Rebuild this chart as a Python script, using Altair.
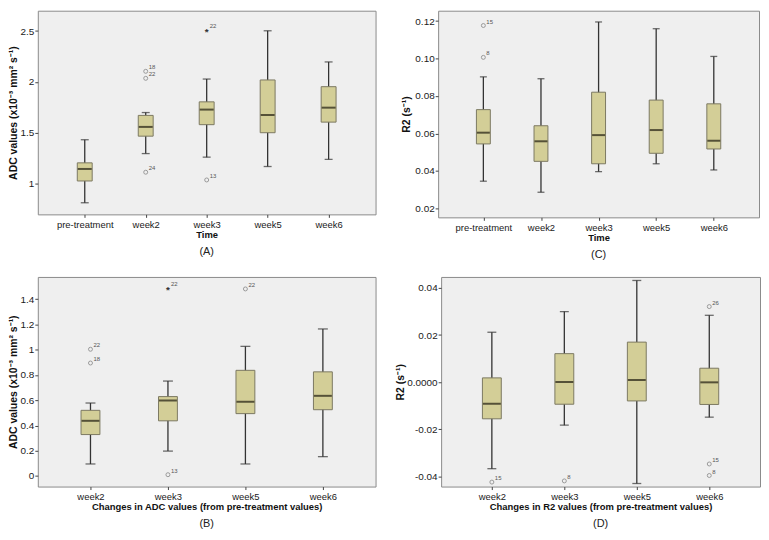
import altair as alt
import pandas as pd

FONT = "Liberation Sans"

# ---------------- Panel A: ADC values by time ----------------
a_cats = ["pre-treatment", "week2", "week3", "week5", "week6"]
a_low = [0.814, 1.297, 1.262, 1.170, 1.240]
a_q1 = [1.028, 1.468, 1.581, 1.502, 1.606]
a_med = [1.146, 1.559, 1.729, 1.676, 1.748]
a_q3 = [1.206, 1.672, 1.805, 2.020, 1.954]
a_high = [1.433, 1.700, 2.029, 2.503, 2.197]
a_out_cat = ["week2", "week2", "week2", "week3", "week3"]
a_out_val = [2.105, 2.036, 1.114, 2.515, 1.038]
a_out_lab = ["18", "22", "24", "22", "13"]
a_out_kind = ["circle", "circle", "circle", "star", "circle"]
a_ticks = [1.0, 1.5, 2.0, 2.5]

# ---------------- Panel C: R2 by time ----------------
c_cats = ["pre-treatment", "week2", "week3", "week5", "week6"]
c_low = [0.0345, 0.0286, 0.0396, 0.0438, 0.0405]
c_q1 = [0.0544, 0.0451, 0.0438, 0.0494, 0.0517]
c_med = [0.0604, 0.0558, 0.0591, 0.0618, 0.0561]
c_q3 = [0.0727, 0.0641, 0.0820, 0.0778, 0.0758]
c_high = [0.0902, 0.0892, 0.1195, 0.1159, 0.1011]
c_out_cat = ["pre-treatment", "pre-treatment"]
c_out_val = [0.1176, 0.1006]
c_out_lab = ["15", "8"]
c_out_kind = ["circle", "circle"]
c_ticks = [0.02, 0.04, 0.06, 0.08, 0.10, 0.12]

# ---------------- Panel B: changes in ADC ----------------
b_cats = ["week2", "week3", "week5", "week6"]
b_low = [0.095, 0.197, 0.095, 0.153]
b_q1 = [0.328, 0.437, 0.494, 0.525]
b_med = [0.437, 0.598, 0.588, 0.635]
b_q3 = [0.520, 0.629, 0.837, 0.825]
b_high = [0.578, 0.752, 1.027, 1.165]
b_out_cat = ["week2", "week2", "week3", "week3", "week5"]
b_out_val = [1.004, 0.895, 1.488, 0.010, 1.482]
b_out_lab = ["22", "18", "22", "13", "22"]
b_out_kind = ["circle", "circle", "star", "circle", "circle"]
b_ticks = [0.0, 0.2, 0.4, 0.6, 0.8, 1.0, 1.2, 1.4]

# ---------------- Panel D: changes in R2 ----------------
d_cats = ["week2", "week3", "week5", "week6"]
d_low = [-0.0368, -0.0183, -0.0431, -0.0149]
d_q1 = [-0.0156, -0.0094, -0.0080, -0.0095]
d_med = [-0.0092, 0.0000, 0.0009, -0.0001]
d_q3 = [0.0018, 0.0121, 0.0170, 0.0059]
d_high = [0.0212, 0.0300, 0.0432, 0.0284]
d_out_cat = ["week2", "week3", "week6", "week6", "week6"]
d_out_val = [-0.0425, -0.0420, 0.0321, -0.0348, -0.0397]
d_out_lab = ["15", "8", "26", "15", "8"]
d_out_kind = ["circle", "circle", "circle", "circle", "circle"]
d_ticks = [-0.04, -0.02, 0.0, 0.02, 0.04]

BOX_FILL = "#d3ce97"
BOX_STROKE = "#7c7962"
WHISK = "#333333"
MEDIAN = "#1f1c10"
OUT = "#6a6a6a"


def panel(cats, low, q1, med, q3, high, oc, ov, ol, ok, domain, ticks,
          yfmt, ytitle, xtitle, label, width, height, pad, box_w, cap_w,
          title_x, label_expr=None):
    df = pd.DataFrame(dict(cat=cats, low=low, q1=q1, med=med, q3=q3, high=high))
    out = pd.DataFrame(dict(cat=oc, val=ov, lab=ol, kind=ok))

    xaxis = alt.Axis(title=xtitle, labelAngle=0, domain=False, grid=False,
                     tickSize=3, tickColor="#444", labelFontSize=9.5,
                     labelColor="#1a1a1a", labelPadding=2, titleFontSize=9.5,
                     titleFontWeight="bold", titleColor="#111", titlePadding=1,
                     labelFont=FONT, titleFont=FONT)
    yargs = dict(title=ytitle, values=ticks, domain=False, grid=False,
                 tickSize=3, tickColor="#444", labelFontSize=10,
                 labelColor="#1a1a1a", labelPadding=1, titleFontSize=10.5,
                 titleFontWeight="bold", titleColor="#111",
                 titleX=title_x, titleAngle=270, titleBaseline="bottom",
                 labelFont=FONT, titleFont=FONT)
    if label_expr:
        yargs["labelExpr"] = label_expr
    else:
        yargs["format"] = yfmt
    yaxis = alt.Axis(**yargs)
    xs = alt.Scale(type="point", padding=pad)
    ys = alt.Scale(domain=domain, nice=False, zero=False)

    def X():
        return alt.X("cat:N", sort=cats, scale=xs, axis=xaxis)

    def Y(f):
        return alt.Y(f, type="quantitative", scale=ys, axis=yaxis)

    base = alt.Chart(df)
    whisk = base.mark_rule(color=WHISK, strokeWidth=1.3).encode(
        x=X(), y=Y("low"), y2="high")
    cap_lo = base.mark_tick(orient="horizontal", size=cap_w, thickness=1.3,
                            color=WHISK).encode(x=X(), y=Y("low"))
    cap_hi = base.mark_tick(orient="horizontal", size=cap_w, thickness=1.3,
                            color=WHISK).encode(x=X(), y=Y("high"))
    box = base.mark_bar(size=box_w, fill=BOX_FILL, stroke=BOX_STROKE,
                        strokeWidth=1).encode(x=X(), y=Y("q1"), y2="q3")
    median = base.mark_tick(orient="horizontal", size=box_w - 1, thickness=2,
                            color=MEDIAN).encode(x=X(), y=Y("med"))

    ob = alt.Chart(out)
    circ = ob.transform_filter(alt.datum.kind == "circle").mark_point(
        shape="circle", filled=False, size=16, color=OUT, strokeWidth=0.9
    ).encode(x=X(), y=Y("val"))
    star = ob.transform_filter(alt.datum.kind == "star").mark_text(
        text="*", fontSize=10, fontWeight="bold", color="#333",
        baseline="middle", dy=2, font=FONT
    ).encode(x=X(), y=Y("val"))
    labs = ob.mark_text(align="left", baseline="bottom", dx=3, dy=-1,
                        fontSize=6, color="#555", font=FONT).encode(
        x=X(), y=Y("val"), text="lab:N")

    return alt.layer(whisk, cap_lo, cap_hi, box, median, circ, star, labs).properties(
        width=width, height=height,
        title=alt.TitleParams(label, orient="bottom", fontSize=11,
                              fontWeight="normal", color="#222", offset=7,
                              anchor="middle", font=FONT))


A = panel(a_cats, a_low, a_q1, a_med, a_q3, a_high, a_out_cat, a_out_val,
          a_out_lab, a_out_kind, [0.70, 2.70], a_ticks, "~g",
          "ADC values (x10⁻³ mm² s⁻¹)", "Time", "(A)", 340, 205, 0.77, 15, 8,
          -19)
C = panel(c_cats, c_low, c_q1, c_med, c_q3, c_high, c_out_cat, c_out_val,
          c_out_lab, c_out_kind, [0.0152, 0.1255], c_ticks, ".2f",
          "R2 (s⁻¹)", "Time", "(C)", 323, 208, 0.785, 14, 7, -27)
B = panel(b_cats, b_low, b_q1, b_med, b_q3, b_high, b_out_cat, b_out_val,
          b_out_lab, b_out_kind, [-0.084, 1.577], b_ticks, "~g",
          "ADC values (x10⁻³ mm² s⁻¹)",
          "Changes in ADC values (from pre-treatment values)", "(B)",
          340, 211, 0.68, 19, 10, -19)
D = panel(d_cats, d_low, d_q1, d_med, d_q3, d_high, d_out_cat, d_out_val,
          d_out_lab, d_out_kind, [-0.0444, 0.0447], d_ticks, ".2f",
          "R2 (s⁻¹)", "Changes in R2 values (from pre-treatment values)", "(D)",
          321, 211, 0.70, 19, 9, -36,
          label_expr="datum.value == 0 ? '0.0000' : (datum.value < 0 ? '-' + format(-datum.value, '.2f') : format(datum.value, '.2f'))")

chart = alt.vconcat(
    alt.hconcat(A, C, spacing=24),
    alt.hconcat(B, D, spacing=18),
    spacing=15,
).properties(
    padding={"left": 0, "top": 0, "right": 0, "bottom": 0},
    background="white",
).configure_view(
    stroke="#8a8a8a", strokeWidth=1, fill="#efefef"
)

chart.save("out.html", embed_options={"renderer": "svg", "actions": False})
